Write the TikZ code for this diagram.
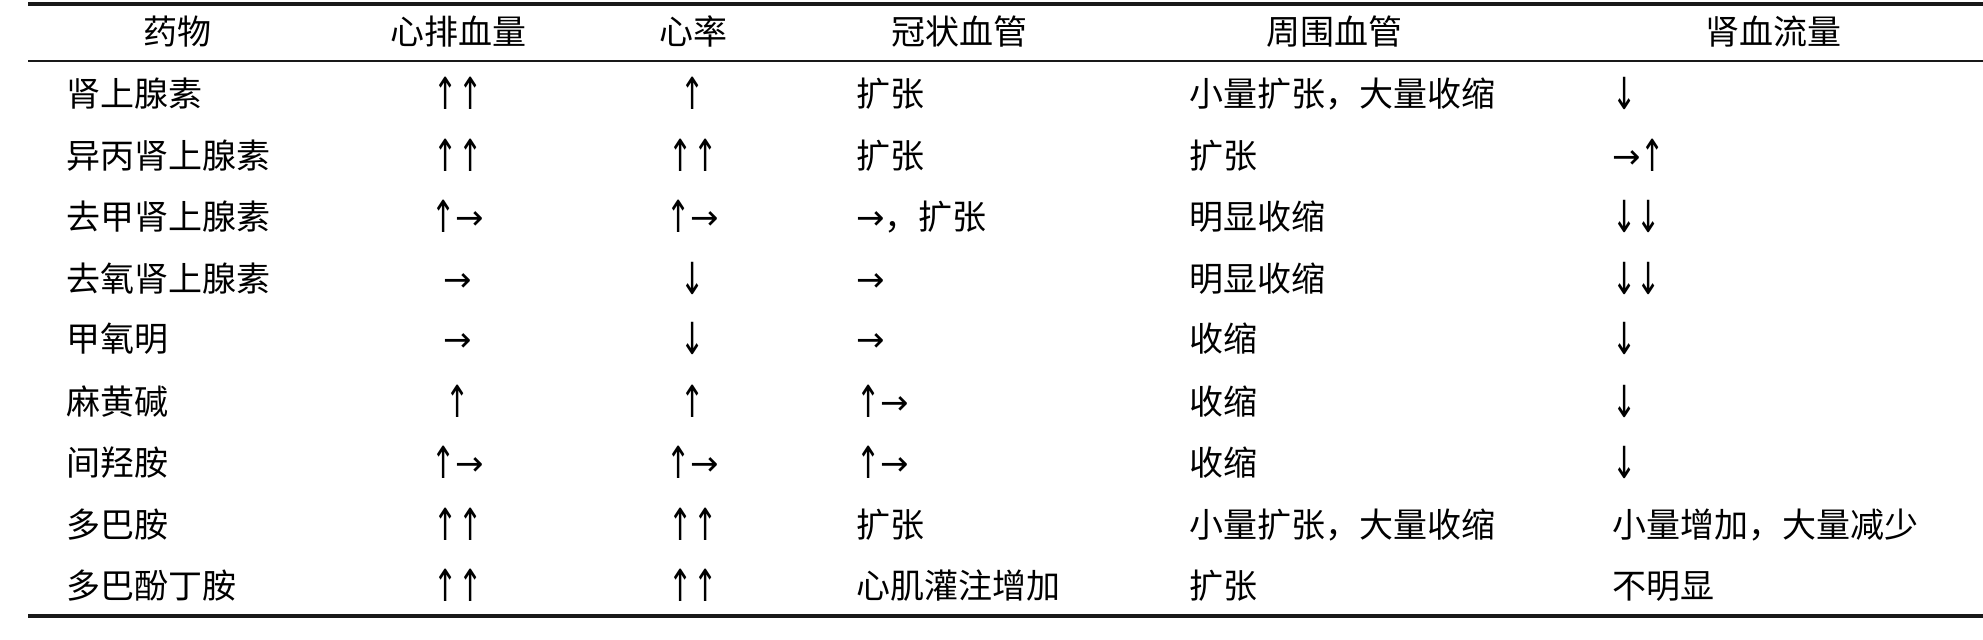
\documentclass[tikz,border=0pt]{standalone}
\usepackage{fontspec}
\usepackage{graphicx}
\newfontfamily\cjk{Noto Sans CJK SC}
\newfontfamily\arrfont{DejaVu Sans}
\newcommand\myup{{\arrfont\raisebox{-1.5pt}{\scalebox{0.85}[1.3]{↑}}}}
\newcommand\mydn{{\arrfont\raisebox{-1.5pt}{\scalebox{0.85}[1.3]{↓}}}}
\newcommand\myrt{{\arrfont →}}
\newcommand\tabrow[8]{%
  \node[lt] (r#1c1) at (66,#2) {#3};
  \node[ct] (r#1c2) at (458,#2) {#4};
  \node[ct] (r#1c3) at (693,#2) {#5};
  \node[lt] (r#1c4) at (856,#2) {#6};
  \node[lt] (r#1c5) at (1189,#2) {#7};
  \node[lt] (r#1c6) at (1612,#2) {#8};
}
\begin{document}
\begin{tikzpicture}[x=0.5pt,y=-0.5pt,
  every node/.style={inner sep=0pt,text height=14pt,text depth=3pt,
    font=\cjk\fontsize{17}{20}\selectfont,text=black},
  lt/.style={anchor=west},
  ct/.style={anchor=center},
  rule/.style={draw=black!90,line width=1.8pt}]
\useasboundingbox (0,0) rectangle (1983,639);
\draw[rule] (28,4) -- (1983,4);
\draw[rule,line width=1.2pt] (28,61) -- (1983,61);
\draw[rule] (28,616) -- (1983,616);
\node[ct] (h1) at (177,33) {药物};
\node[ct] (h2) at (458,33) {心排血量};
\node[ct] (h3) at (693,33) {心率};
\node[ct] (h4) at (959,33) {冠状血管};
\node[ct] (h5) at (1334,33) {周围血管};
\node[ct] (h6) at (1773,33) {肾血流量};
\tabrow{1}{95}{肾上腺素}{\myup\myup}{\myup}{扩张}{小量扩张，大量收缩}{\mydn}
\tabrow{2}{157}{异丙肾上腺素}{\myup\myup}{\myup\myup}{扩张}{扩张}{\myrt\myup}
\tabrow{3}{218}{去甲肾上腺素}{\myup\myrt}{\myup\myrt}{\myrt，扩张}{明显收缩}{\mydn\mydn}
\tabrow{4}{280}{去氧肾上腺素}{\myrt}{\mydn}{\myrt}{明显收缩}{\mydn\mydn}
\tabrow{5}{340}{甲氧明}{\myrt}{\mydn}{\myrt}{收缩}{\mydn}
\tabrow{6}{403}{麻黄碱}{\myup}{\myup}{\myup\myrt}{收缩}{\mydn}
\tabrow{7}{464}{间羟胺}{\myup\myrt}{\myup\myrt}{\myup\myrt}{收缩}{\mydn}
\tabrow{8}{526}{多巴胺}{\myup\myup}{\myup\myup}{扩张}{小量扩张，大量收缩}{小量增加，大量减少}
\tabrow{9}{587}{多巴酚丁胺}{\myup\myup}{\myup\myup}{心肌灌注增加}{扩张}{不明显}
\end{tikzpicture}
\end{document}
